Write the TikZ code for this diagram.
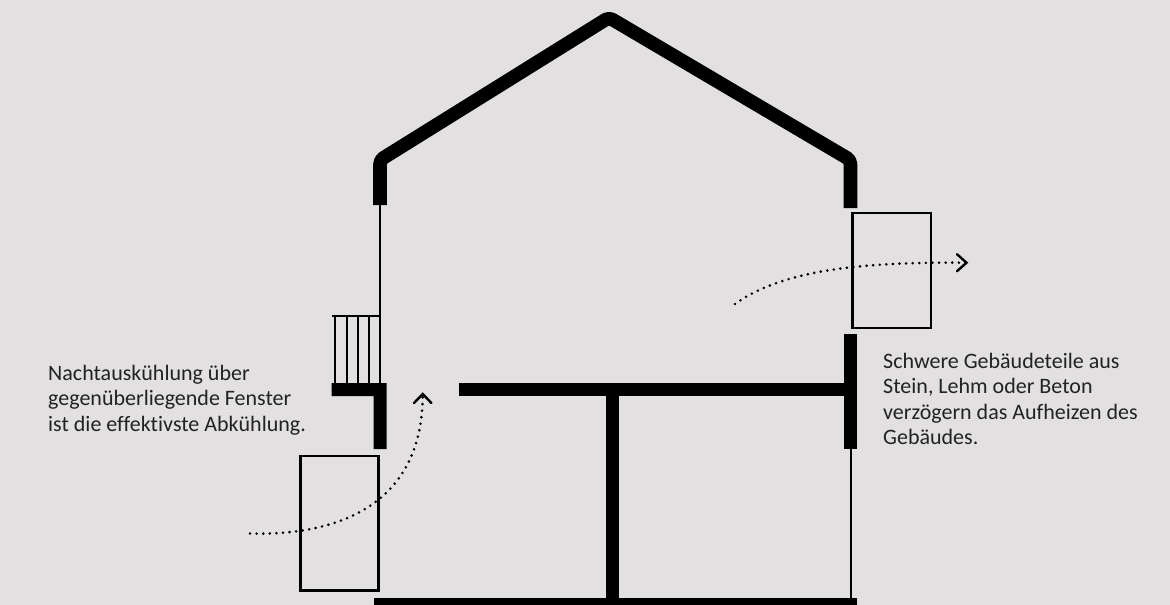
\documentclass[tikz,border=0pt]{standalone}
\usepackage{fontspec}
\setmainfont{Carlito}[Ligatures=NoCommon]
\usetikzlibrary{arrows.meta}
\definecolor{hintergrund}{HTML}{E3E0E1}
\definecolor{schrift}{HTML}{222222}
\tikzset{
    wand/.style={line width=13.6pt, line join=round, rounded corners=4pt},
    decke/.style={fill=black, draw=none},
    duenn/.style={line width=1.6pt},
    fenster/.style={draw=black, line width=2.2pt},
    luft/.style={line width=2.9pt, line cap=round, dash pattern=on 0pt off 6.6pt},
    spitze/.style={line width=2.4pt, line cap=round, line join=miter},
    notiz/.style={anchor=north west, inner sep=0pt, align=left, text=schrift,
        font=\fontsize{22}{25.2}\selectfont},
}
\begin{document}
\begin{tikzpicture}[x=1pt, y=-1pt]

    % Hintergrund
    \fill[hintergrund] (0,0) rectangle (1170,605);
    \useasboundingbox (0,0) rectangle (1170,605);

    % Dach und obere Waende
    \draw[wand] (380,205) -- (380,160) -- (609,17.5) -- (850.5,160) -- (850.5,208);

    % Duenne Waende
    \draw[duenn] (380,205) -- (380,384);
    \draw[duenn] (851,448) -- (851,598);

    % Gelaender
    \draw[duenn] (332,316) -- (380,316);
    \foreach \x in {335,347,358,369}
    \draw[duenn] (\x,316) -- (\x,384);

    % Balkon und Wand links
    \fill[decke] (331.5,383) -- (386.5,383) -- (386.5,449) -- (373.5,449) -- (373.5,396) -- (331.5,396) -- cycle;

    % Wand rechts, Decke, Innenwand, Boden
    \fill[decke] (844,334) rectangle (857,449);
    \fill[decke] (458.5,383) rectangle (850,396);
    \fill[decke] (606,390) rectangle (618.5,598);
    \fill[decke] (373.5,597.5) rectangle (857,605);

    % Fenster
    \node[fenster, inner sep=0pt, minimum width=78pt, minimum height=134.5pt] (fensterlinks) at (339.5,523.2) {};
    \node[fenster, inner sep=0pt, minimum width=78.5pt, minimum height=115pt] (fensterrechts) at (891.7,270.5) {};

    % Luftstroeme
    \coordinate (einlass) at (250,533.5);
    \coordinate (einlassziel) at (422.7,394);
    \coordinate (auslass) at (735,304);
    \coordinate (auslassziel) at (966.5,262.7);
    \draw[luft] (einlass) .. controls (345,536) and (423,500) .. (einlassziel);
    \draw[luft] (auslass) .. controls (785,268) and (870,262) .. (auslassziel);

    % Pfeilspitzen
    \draw[spitze] ([shift={(-8.7,9)}]einlassziel) -- (einlassziel) -- ([shift={(8.7,9)}]einlassziel);
    \draw[spitze] ([shift={(-9.5,-8.5)}]auslassziel) -- (auslassziel) -- ([shift={(-9.5,8.5)}]auslassziel);

    % Beschriftungen
    \node[notiz] (notizlinks) at (48,365.2) {Nachtauskühlung über\\gegenüberliegende Fenster\\ist die effektivste Abkühlung.};
    \node[notiz] (notizrechts) at (883,353.3) {Schwere Gebäudeteile aus\\Stein, Lehm oder Beton\\verzögern das Aufheizen des\\Gebäudes.};

\end{tikzpicture}
\end{document}
